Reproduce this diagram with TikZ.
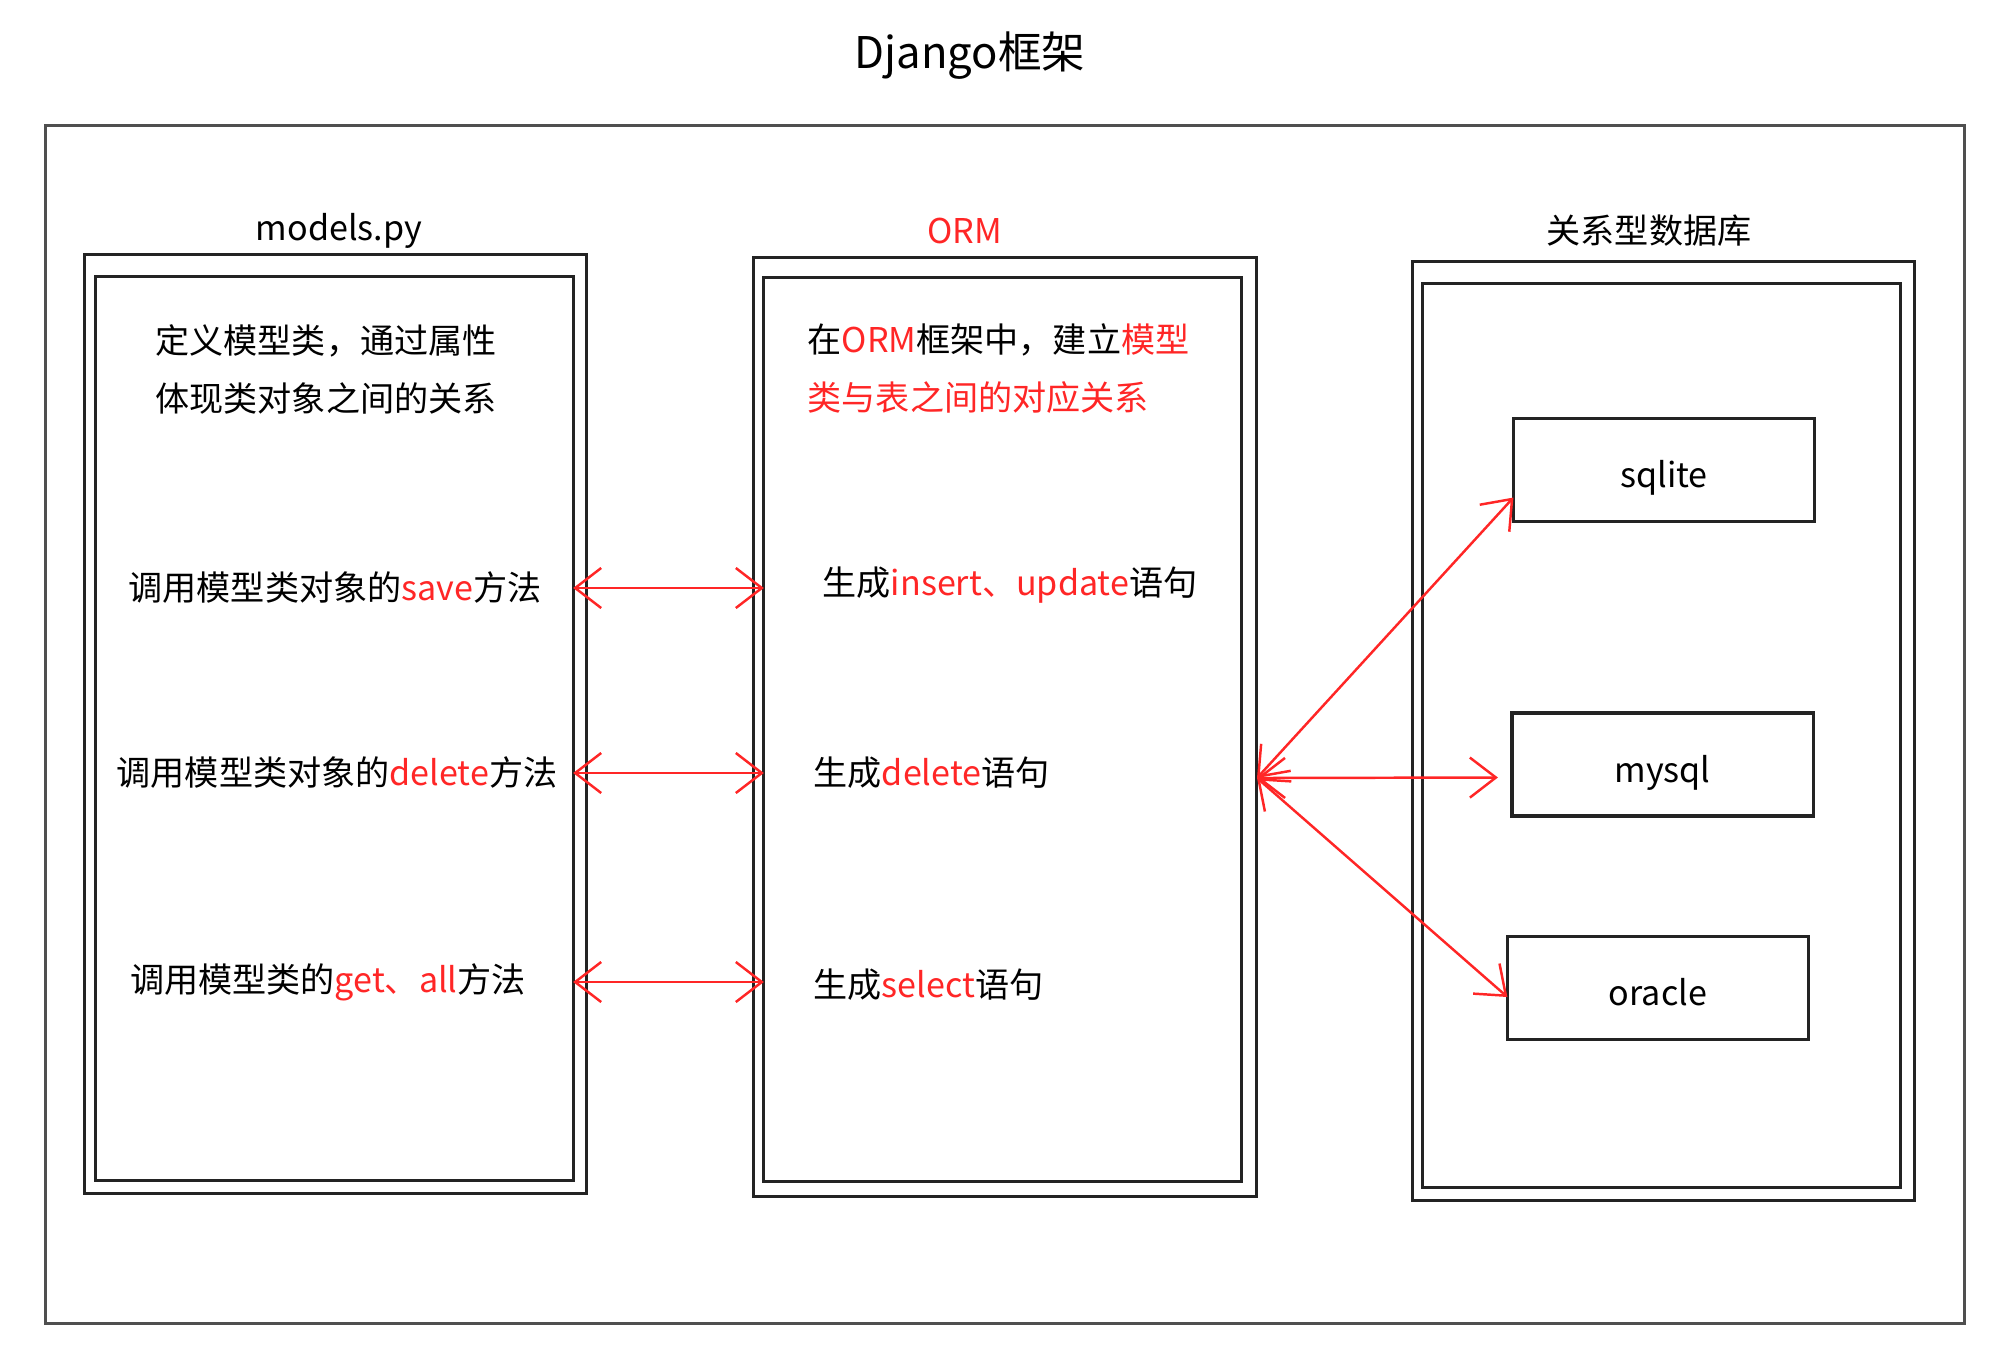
\documentclass[tikz,border=0pt]{standalone}
\usepackage{fontspec}
\setmainfont{Noto Sans CJK SC}
\usepackage{xcolor}
\usepackage{tikz}
\usetikzlibrary{arrows.meta,calc}
\definecolor{ormred}{RGB}{255,38,38}
\definecolor{boxline}{RGB}{35,35,35}

\begin{document}
\begin{tikzpicture}[
      x=0.01cm,y=-0.01cm,
      txt/.style={inner sep=0pt,font=\fontsize{9.7}{16.5}\selectfont},
      frame/.style={draw=boxline,line width=0.9pt,inner sep=0pt,outer sep=0pt},
      wall/.style={frame,minimum width=5.02cm,minimum height=9.38cm},
      lining/.style={frame,minimum width=4.77cm,minimum height=9.03cm},
      dbbox/.style={frame,minimum width=3.01cm,minimum height=1.03cm,
                    text height=3.5mm,text depth=0pt,
                    font=\fontsize{9.7}{12}\selectfont},
      every edge/.style={draw,ormred,line width=0.7pt,
        {Straight Barb[length=2.6mm,width=4mm]}-{Straight Barb[length=2.6mm,width=4mm]}}]

    \useasboundingbox (0,0) rectangle (2000,1354);

    \node[font=\fontsize{12.4}{15}\selectfont] (title) at (970,56) {Django框架};
    \node[frame,draw=boxline!80,minimum width=19.18cm,minimum height=11.97cm] (django) at (1005,724.5) {};

    \node[wall] (mout) at (335.5,724) {};
    \node[lining] (min) at (334.5,728.5) {};
    \node[wall] (oout) at (1005,727) {};
    \node[lining] (oin) at (1002.5,729.5) {};
    \node[wall] (dout) at (1663.5,731) {};
    \node[lining] (din) at (1661.5,735.5) {};

    \node[txt] (mlabel) at (339,231) {models.py};
    \node[txt,text=ormred] (olabel) at (965,231) {ORM};
    \node[txt] (dlabel) at (1649,231) {关系型数据库};

    \node[txt,align=center] (define) at (326,369) {定义模型类，通过属性\\体现类对象之间的关系};
    \node[txt] (save) at (335,588) {调用模型类对象的\textcolor{ormred}{save}方法};
    \node[txt] (delete) at (337,773) {调用模型类对象的\textcolor{ormred}{delete}方法};
    \node[txt] (getall) at (328,982) {调用模型类的\textcolor{ormred}{get、all}方法};

    \node[txt,align=left,anchor=west] (build) at (807,369)
      {在\textcolor{ormred}{ORM}框架中，建立\textcolor{ormred}{模型}\\\textcolor{ormred}{类与表之间的对应关系}};
    \node[txt,anchor=west] (insert) at (822,585) {生成\textcolor{ormred}{insert、update}语句};
    \node[txt,anchor=west] (sqldel) at (813,773) {生成\textcolor{ormred}{delete}语句};
    \node[txt,anchor=west] (select) at (813,985) {生成\textcolor{ormred}{select}语句};

    \node[dbbox] (sqlite) at (1664,470) {sqlite};
    \node[dbbox] (mysql) at (1662.5,764.5) {mysql};
    \node[dbbox] (oracle) at (1658,988) {oracle};

    \coordinate (hub) at (1257,778);

    \draw (min.east |- save) edge (oin.west |- save);
    \draw (min.east |- delete) edge (oin.west |- delete);
    \draw (min.east |- getall) edge (oin.west |- getall);
    \draw (hub) edge ($(sqlite.south west)+(0,-24)$);
    \draw (hub) edge ($(mysql.west)+(-14,13)$);
    \draw (hub) edge ($(oracle.west)+(0,9)$);
  \end{tikzpicture}
\end{document}
